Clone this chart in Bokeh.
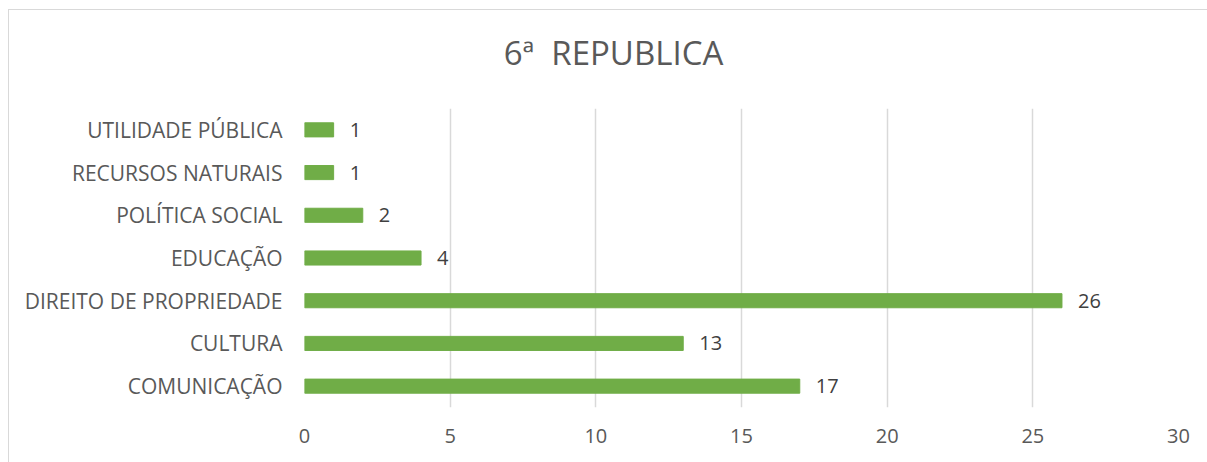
from bokeh.plotting import figure
from bokeh.models import ColumnDataSource, FactorRange, Range1d, LabelSet, FixedTicker, Div
from bokeh.layouts import column
from bokeh.core.properties import value
from bokeh.embed import file_html
from bokeh.resources import INLINE

categories = ["COMUNICAÇÃO", "CULTURA", "DIREITO DE PROPRIEDADE", "EDUCAÇÃO",
              "POLÍTICA SOCIAL", "RECURSOS NATURAIS", "UTILIDADE PÚBLICA"]
values = [17, 13, 26, 4, 2, 1, 1]
x_ticks = [0, 5, 10, 15, 20, 25, 30]
title_text = "6ª  REPUBLICA"

FONT = "Open Sans"

src = ColumnDataSource(dict(cat=categories, val=values, lab=[str(v) for v in values]))

title = Div(text=title_text, width=1199, height=76,
            styles={"font-family": FONT, "font-size": "33px", "color": "#595959",
                    "text-align": "center", "white-space": "pre", "line-height": "76px"})

p = figure(width=1199, height=367, output_backend="svg", toolbar_location=None,
           y_range=FactorRange(factors=categories, range_padding=0),
           x_range=Range1d(0, 30),
           min_border_left=295, min_border_right=30, min_border_bottom=56, min_border_top=12)

p.hbar(y="cat", right="val", left=0, height=0.33, source=src, color="#70AD47")

labels = LabelSet(x="val", y="cat", text="lab", source=src, x_offset=16,
                  text_baseline="middle", text_font=value(FONT), text_font_size="20px",
                  text_color="#404040")
p.add_layout(labels)

p.outline_line_color = None
p.ygrid.grid_line_color = None
p.xgrid.grid_line_color = "#d9d9d9"
p.xgrid.grid_line_width = 1.5
p.xaxis.ticker = FixedTicker(ticks=x_ticks)

for ax in (p.xaxis, p.yaxis):
    ax.axis_line_color = None
    ax.major_tick_line_color = None
    ax.minor_tick_line_color = None
    ax.major_label_text_font = FONT
    ax.major_label_text_font_size = "20px"
    ax.major_label_text_color = "#595959"
p.yaxis.major_label_text_font_size = "21px"
p.xaxis.major_label_standoff = 15
p.yaxis.major_label_standoff = 16

layout = column(title, p, spacing=0)
layout.margin = (9, 0, 0, 8)
layout.styles = {"border-top": "1.5px solid #d9d9d9", "border-left": "1.5px solid #d9d9d9"}

open("out.html", "w").write(file_html(layout, INLINE))
